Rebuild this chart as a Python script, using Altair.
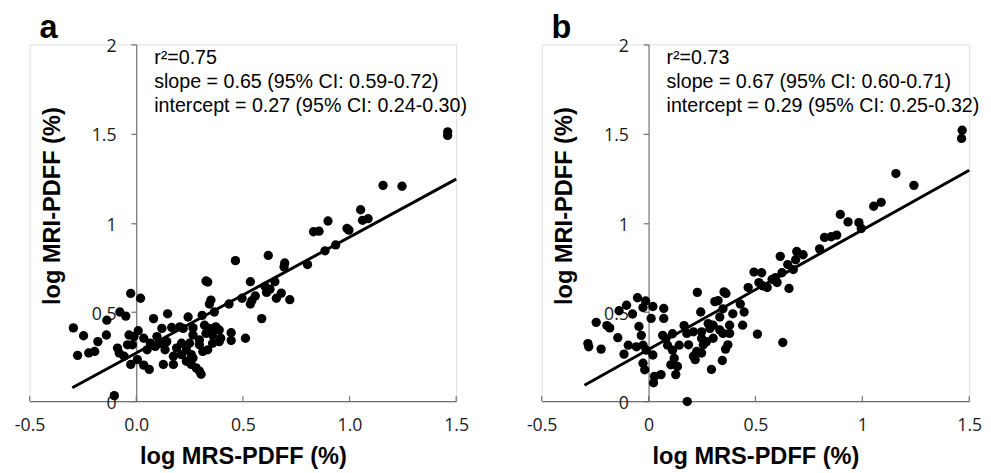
import altair as alt
import pandas as pd

# ---------------- data ----------------
a_x = [1.46, 1.46, 1.157, 1.246, 1.052, 1.061, 1.087, 0.899, 0.988, 0.997, 0.831, 0.857,
       0.935, 0.885, 0.803, 0.696, 0.693, 0.619, 0.465, 0.535, 0.650, 0.604, 0.627, 0.611,
       0.680, 0.657, 0.720, 0.558, 0.542, 0.535, 0.496, 0.435, 0.588, 0.512, 0.445, 0.445,
       0.327, 0.335, 0.350, 0.343, 0.366, 0.309, 0.243, 0.147, 0.081, 0.020, -0.026, -0.077,
       -0.049, -0.138, -0.295, -0.247, -0.180, -0.140, -0.275, -0.223, -0.195, -0.103,
       0.120, 0.166, 0.204, 0.220, 0.266, 0.320, 0.343, 0.373, 0.389, 0.009,
       -0.034, -0.011, 0.035, 0.097, 0.266, 0.327, 0.358, 0.396, 0.296,
       -0.041, -0.018, 0.066, 0.089, 0.112, 0.143, 0.212, 0.250, 0.296, 0.358, 0.389, -0.088,
       -0.080, -0.057, 0.051, 0.135, 0.189, 0.235, 0.258, 0.312, 0.335,
       0.005, 0.174, 0.212, 0.235, 0.266,
       -0.026, 0.035, 0.061, 0.127, 0.174, 0.258, 0.281, 0.296, 0.304]
a_y = [1.510, 1.490, 1.210, 1.205, 1.073, 1.014, 1.023, 1.010, 0.968, 0.959, 0.950, 0.953,
       0.876, 0.843, 0.766, 0.775, 0.753, 0.817, 0.788, 0.670, 0.670, 0.643, 0.628, 0.610,
       0.606, 0.577, 0.569, 0.590, 0.564, 0.545, 0.577, 0.545, 0.463, 0.353, 0.384, 0.340,
       0.674, 0.668, 0.567, 0.545, 0.500, 0.481, 0.472, 0.490, 0.463, 0.577, 0.604, 0.500,
       0.477, 0.454, 0.411, 0.367, 0.334, 0.371, 0.257, 0.270, 0.279, 0.031,
       0.408, 0.413, 0.417, 0.408, 0.411, 0.426, 0.408, 0.417, 0.399, 0.395,
       0.371, 0.362, 0.353, 0.362, 0.371, 0.380, 0.371, 0.353, 0.343,
       0.316, 0.316, 0.325, 0.307, 0.325, 0.334, 0.325, 0.325, 0.316, 0.325, 0.334, 0.298,
       0.270, 0.252, 0.288, 0.288, 0.298, 0.288, 0.261, 0.279, 0.288,
       0.233, 0.252, 0.261, 0.224, 0.242,
       0.206, 0.202, 0.178, 0.206, 0.206, 0.206, 0.187, 0.169, 0.151]

b_x = [-0.284, -0.280, -0.222, -0.245, -0.195, -0.182, -0.144, -0.138, -0.103, -0.075,
       -0.052, -0.014, -0.026, 0.020, 0.071, 0.012, 0.071, -0.045, -0.034, -0.095,
       -0.115, -0.057, -0.026, -0.011, 0.020, -0.026, -0.018, 0.028, 0.058, 0.023,
       0.066, 0.081, 0.112, 0.089, 0.112, 0.120, 0.143, 0.166, 0.104, 0.135,
       0.127, 0.181,
       0.179, 0.210, 0.248, 0.228, 0.244, 0.248, 0.256, 0.225, 0.248, 0.218,
       0.210, 0.294, 0.302, 0.302, 0.310, 0.325, 0.348, 0.333, 0.333, 0.348,
       0.379, 0.353, 0.362, 0.394, 0.379, 0.371, 0.360, 0.345, 0.429, 0.447,
       0.440, 0.509, 0.628, 0.466, 0.493, 0.529, 0.516, 0.535, 0.555, 0.578,
       0.593, 0.601, 0.616, 0.624, 0.657, 0.651, 0.677, 0.688, 0.693, 0.723,
       0.800, 0.823, 0.854, 0.880, 0.897, 0.933, 0.984, 0.995, 1.053, 1.088,
       1.157, 1.241, 1.467, 1.464, 0.279, 0.287, 0.271, 0.187]
b_y = [0.323, 0.305, 0.292, 0.442, 0.424, 0.411, 0.356, 0.507, 0.538, 0.489,
       0.580, 0.562, 0.525, 0.531, 0.520, 0.464, 0.464, 0.419, 0.369, 0.314,
       0.264, 0.305, 0.314, 0.286, 0.259, 0.213, 0.176, 0.139, 0.149, 0.103,
       0.369, 0.351, 0.378, 0.314, 0.286, 0.241, 0.314, 0.424, 0.204, 0.195,
       0.149, -0.002,
       0.380, 0.389, 0.389, 0.610, 0.500, 0.353, 0.316, 0.279, 0.270, 0.233,
       0.252, 0.178, 0.426, 0.353, 0.558, 0.564, 0.518, 0.472, 0.399, 0.380,
       0.380, 0.613, 0.604, 0.490, 0.426, 0.316, 0.292, 0.228, 0.545, 0.500,
       0.426, 0.376, 0.329, 0.637, 0.724, 0.720, 0.665, 0.646, 0.637, 0.683,
       0.692, 0.665, 0.812, 0.720, 0.632, 0.766, 0.738, 0.793, 0.839, 0.821,
       0.854, 0.918, 0.922, 0.931, 1.047, 1.005, 1.001, 0.968, 1.093, 1.115,
       1.276, 1.210, 1.519, 1.473, 0.435, 0.408, 0.334, 0.316]

# regression line end points
a_line_x = [-0.30, 1.50]
a_line_y = [0.075, 1.245]
b_line_x = [-0.30, 1.50]
b_line_y = [0.089, 1.295]

a_stats = ["r\u00b2=0.75", "slope = 0.65 (95% CI: 0.59-0.72)", "intercept = 0.27 (95% CI: 0.24-0.30)"]
b_stats = ["r\u00b2=0.73", "slope = 0.67 (95% CI: 0.60-0.71)", "intercept = 0.29 (95% CI: 0.25-0.32)"]

x_ticks = [-0.5, 0.0, 0.5, 1.0, 1.5]
y_ticks = [0.0, 0.5, 1.0, 1.5, 2.0]

AX = "#6e6e6e"
LABEL_FONT = "Open Sans"
TITLE_FONT = "Liberation Sans"


def panel(xs, ys, lx, ly, stats, letter, x_fmt, width, height):
    pts = pd.DataFrame({"x": xs, "y": ys})
    ln = pd.DataFrame({"x": lx, "y": ly})
    tk = pd.DataFrame({"x": x_ticks})

    xscale = alt.Scale(domain=[-0.5, 1.5], nice=False, zero=False)
    yscale = alt.Scale(domain=[0, 2], nice=False, zero=False)

    xaxis = alt.Axis(
        values=x_ticks, ticks=False, grid=False, domainColor=AX, domainWidth=1.2,
        labelFont=LABEL_FONT, labelFontSize=18, labelColor="#1a1a1a", labelFlush=False,
        labelPadding=16,
        labelExpr=f"datum.value < 0 ? '-' + format(-datum.value, '{x_fmt}') : format(datum.value, '{x_fmt}')",
        title="log MRS-PDFF (%)", titleFont=TITLE_FONT, titleFontSize=24,
        titleFontWeight="bold", titleColor="black", titlePadding=10,
    )
    yaxis = alt.Axis(
        values=y_ticks, grid=False, domainColor=AX, domainWidth=1.2, tickColor=AX,
        tickSize=5.5, tickWidth=1.2, offset=-width / 4,
        labelFont=LABEL_FONT, labelFontSize=18, labelColor="#1a1a1a", labelPadding=15,
        labelOffset=2.5,
        labelExpr="format(datum.value, '~g')",
        title="log MRI-PDFF (%)", titleFont=TITLE_FONT, titleFontSize=24,
        titleFontWeight="bold", titleColor="black", titleAngle=-90,
        titleAlign="center", titleBaseline="alphabetic", titleX=-78, titleY=164,
    )

    points = alt.Chart(pts).mark_circle(size=90, color="black", opacity=1).encode(
        x=alt.X("x:Q", scale=xscale, axis=xaxis),
        y=alt.Y("y:Q", scale=yscale, axis=yaxis),
    )
    line = alt.Chart(ln).mark_line(color="black", strokeWidth=3).encode(
        x=alt.X("x:Q", scale=xscale), y=alt.Y("y:Q", scale=yscale)
    )
    ticks = alt.Chart(tk).mark_rule(color=AX, strokeWidth=1.2).encode(
        x=alt.X("x:Q", scale=xscale),
        y=alt.YDatum(0),
        y2=alt.Y2Datum(0.028),
    )
    text = alt.Chart(pd.DataFrame({"k": [0]})).mark_text(
        align="left", baseline="alphabetic", font=TITLE_FONT, fontSize=20,
        lineHeight=24.5, color="black",
    ).encode(
        x=alt.XDatum(0.084), y=alt.YDatum(1.893), text=alt.value(stats)
    )
    return alt.layer(ticks, points, line, text).properties(
        width=width, height=height,
        title=alt.TitleParams(letter, anchor="start", frame="group", font=TITLE_FONT,
                              fontSize=33, fontWeight="bold", color="black", dx=10,
                              offset=-7),
    )


pa = panel(a_x, a_y, a_line_x, a_line_y, a_stats, "a", ".1f", 434, 363)
pb = panel(b_x, b_y, b_line_x, b_line_y, b_stats, "b", "~g", 435, 363)

chart = alt.hconcat(pa, pb, spacing=56).properties(
    padding={"left": 5, "top": 0, "right": 0, "bottom": 0}
).configure_view(stroke=None).configure(background="white")

chart.save("out.html", embed_options={"renderer": "svg", "actions": False})
